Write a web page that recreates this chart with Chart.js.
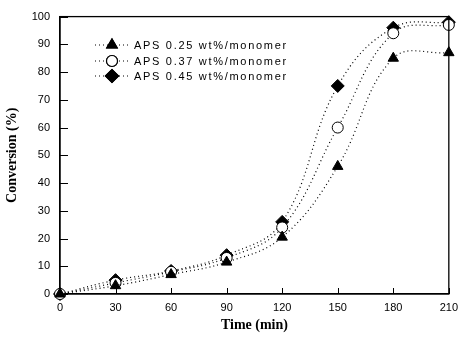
<!DOCTYPE html>
<html>
<head>
<meta charset="utf-8">
<script src="https://cdn.jsdelivr.net/npm/chart.js@4.4.0/dist/chart.umd.min.js"></script>
<style>
  html, body { margin: 0; padding: 0; background: #fff; }
  #wrap { width: 465px; height: 338px; }
</style>
</head>
<body>
<div id="wrap"><canvas id="conv"></canvas></div>
<script>
// time (min)
const times = [0, 30, 60, 90, 120, 150, 180, 210];
// conversion (%) per initiator amount
const aps025 = [0, 3, 7, 11.5, 20.5, 46, 85, 87];
const aps037 = [0, 4, 8, 13, 24, 60, 94, 97];
const aps045 = [0, 5, 8.3, 14, 26, 75, 96, 98];
const labels = ["APS 0.25 wt%/monomer", "APS 0.37 wt%/monomer", "APS 0.45 wt%/monomer"];
const xTicks = [0, 30, 60, 90, 120, 150, 180, 210];
const yTicks = [0, 10, 20, 30, 40, 50, 60, 70, 80, 90, 100];

const styles = [
  { pointStyle: 'triangle', radius: 6, bg: '#000' },
  { pointStyle: 'circle', radius: 5.5, bg: '#fff' },
  { pointStyle: 'rectRot', radius: 6.5, bg: '#000' }
];

function pts(vals) { return times.map((t, i) => ({ x: t, y: vals[i] })); }

const datasets = [aps025, aps037, aps045].map((v, i) => ({
  label: labels[i],
  data: pts(v),
  borderColor: '#000',
  borderWidth: 1.2,
  borderDash: [1, 3],
  tension: 0.4,
  pointStyle: styles[i].pointStyle,
  pointRadius: styles[i].radius,
  pointBackgroundColor: styles[i].bg,
  pointBorderColor: '#000',
  pointBorderWidth: 1,
  clip: false
}));

// frame, inside ticks and the legend with dotted samples
const decor = {
  id: 'decor',
  afterDraw(chart) {
    const ctx = chart.ctx, a = chart.chartArea;
    const xs = chart.scales.x, ys = chart.scales.y;
    ctx.save();
    ctx.strokeStyle = '#000';
    ctx.lineWidth = 1.3;
    ctx.strokeRect(a.left, a.top, a.right - a.left, a.bottom - a.top);
    ctx.lineWidth = 1;
    ctx.beginPath();
    yTicks.forEach(v => {
      const y = Math.round(ys.getPixelForValue(v)) + 0.5;
      ctx.moveTo(a.left, y); ctx.lineTo(a.left + 8, y);
    });
    xTicks.forEach(v => {
      const x = Math.round(xs.getPixelForValue(v)) + 0.5;
      ctx.moveTo(x, a.bottom); ctx.lineTo(x, a.bottom - 6);
    });
    ctx.stroke();

    // legend
    const lx = 112, ly = [45, 61, 76];
    ctx.font = '11px "Liberation Sans", Arial, sans-serif';
    ctx.textBaseline = 'middle';
    ctx.fillStyle = '#000';
    labels.forEach((lab, i) => {
      ctx.setLineDash([1, 3]);
      ctx.lineWidth = 1.2;
      ctx.beginPath();
      ctx.moveTo(95, ly[i]); ctx.lineTo(130, ly[i]);
      ctx.stroke();
      ctx.setLineDash([]);
      const s = styles[i];
      ctx.fillStyle = s.bg;
      Chart.helpers.drawPoint(ctx, { pointStyle: s.pointStyle, radius: s.radius, borderWidth: 1 }, lx, ly[i]);
      ctx.fill();
      ctx.stroke();
      ctx.fillStyle = '#000';
      ctx.letterSpacing = '1.7px';
      ctx.fillText(lab, 134, ly[i] + 1);
    });
    ctx.restore();
  }
};

new Chart(document.getElementById('conv'), {
  type: 'line',
  data: { datasets: datasets },
  options: {
    responsive: true,
    maintainAspectRatio: false,
    animation: false,
    layout: { padding: { top: 10, right: 10, left: 0, bottom: 0 } },
    plugins: { legend: { display: false }, tooltip: { enabled: false } },
    scales: {
      x: {
        type: 'linear', min: 0, max: 210,
        afterBuildTicks: s => { s.ticks = xTicks.map(v => ({ value: v })); },
        afterFit: s => { s.height = 44; },
        grid: { display: false, drawTicks: false, tickLength: 0 },
        border: { display: true, color: '#000', width: 1.3 },
        ticks: { color: '#000', padding: 7, maxRotation: 0,
          font: { family: '"Liberation Sans", Arial, sans-serif', size: 11 } },
        title: { display: true, text: 'Time (min)', color: '#000', padding: { top: 2 },
          font: { family: '"Liberation Serif", "Times New Roman", serif', size: 14, weight: 'bold' } }
      },
      y: {
        min: 0, max: 100,
        afterBuildTicks: s => { s.ticks = yTicks.map(v => ({ value: v })); },
        afterFit: s => { s.width = 60; },
        grid: { display: false, drawTicks: false, tickLength: 0 },
        border: { display: true, color: '#000', width: 1.3 },
        ticks: { color: '#000', padding: 10,
          font: { family: '"Liberation Sans", Arial, sans-serif', size: 11 } },
        title: { display: true, text: 'Conversion (%)', color: '#000', padding: { bottom: 0 },
          font: { family: '"Liberation Serif", "Times New Roman", serif', size: 14, weight: 'bold' } }
      }
    }
  },
  plugins: [decor]
});
</script>
</body>
</html>
